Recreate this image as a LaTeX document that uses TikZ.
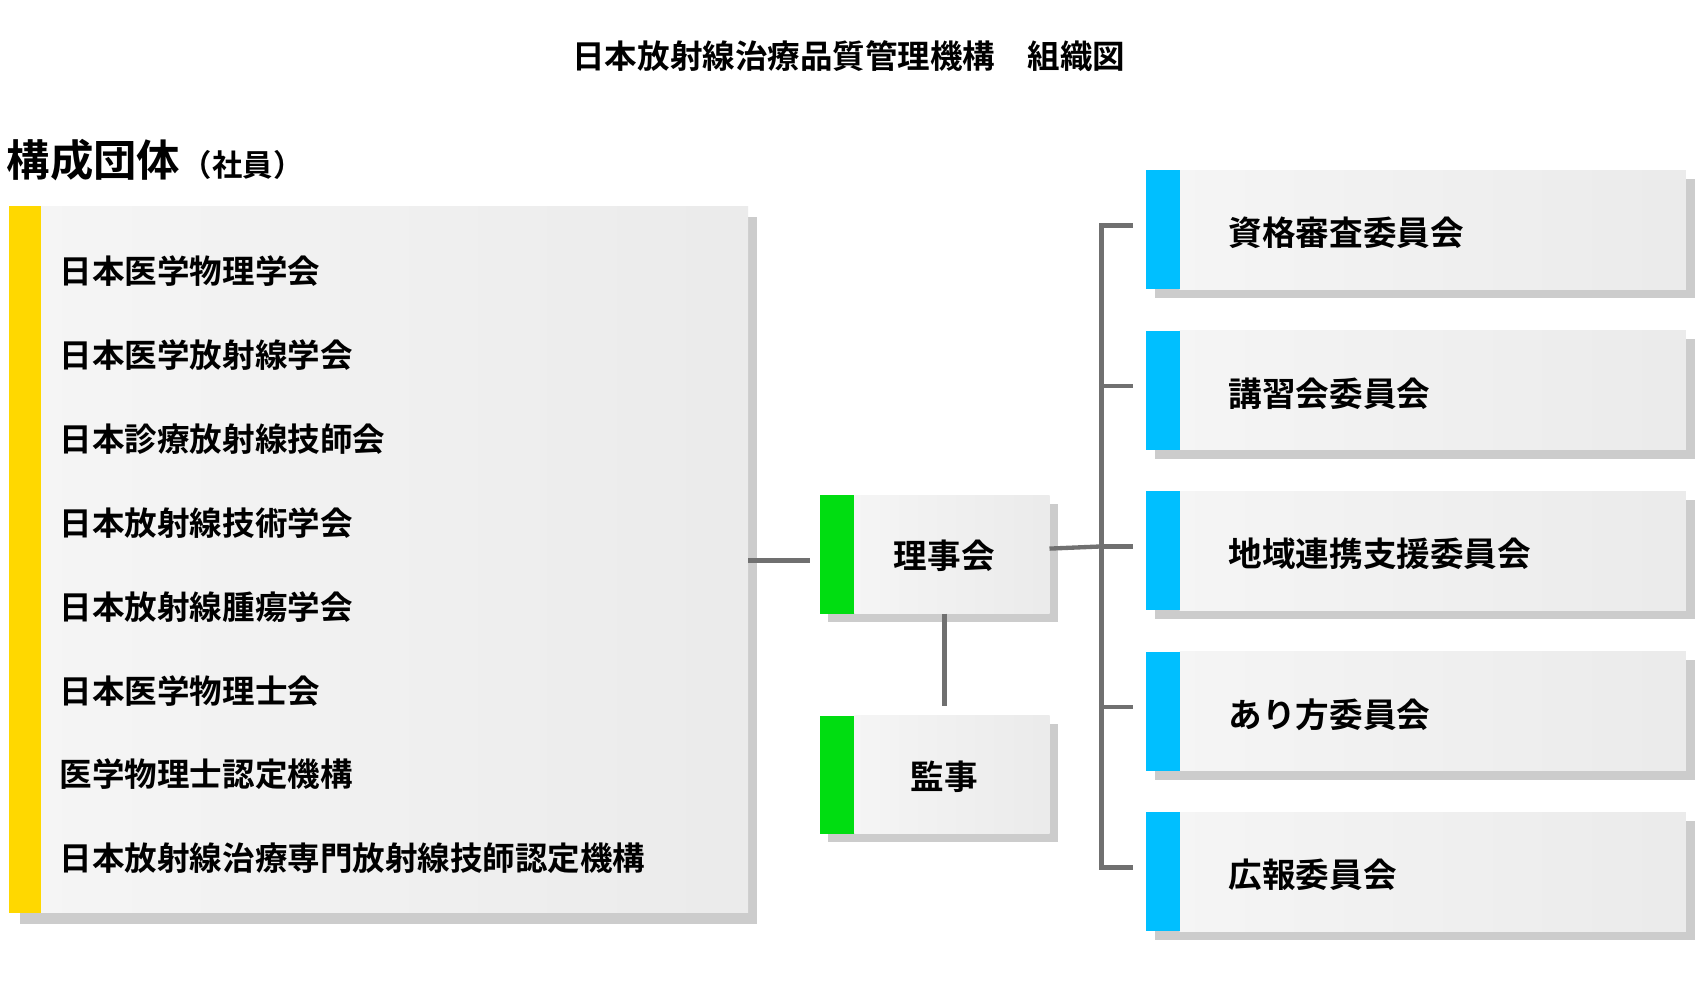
\documentclass[tikz,border=0pt]{standalone}
\usepackage{fontspec}
\setmainfont{Noto Sans CJK JP}[BoldFont={Noto Sans CJK JP Bold}]
\usetikzlibrary{calc}
\definecolor{barY}{HTML}{FFD800}
\definecolor{barG}{HTML}{00DD11}
\definecolor{barB}{HTML}{00BFFF}
\definecolor{lineg}{HTML}{707070}
\definecolor{shad}{HTML}{CCCCCC}
\tikzstyle{member}=[anchor=west,inner sep=0pt,font=\fontsize{30}{30}\selectfont\bfseries]
\tikzstyle{boxtext}=[anchor=west,inner sep=0pt,font=\fontsize{31}{31}\selectfont\bfseries]
\tikzstyle{link}=[draw=lineg,line width=4pt]
\begin{document}
\begin{tikzpicture}[x=1pt,y=-1pt]
    \useasboundingbox (0,0) rectangle (1568,922);
    \node[font=\fontsize{30}{30}\selectfont\bfseries] (title) at (783,52) {日本放射線治療品質管理機構\quad 組織図};
    \node[anchor=west,inner sep=0pt] (head) at (6,148) {{\fontsize{40}{40}\selectfont\bfseries 構成団体}\,{\fontsize{28}{28}\selectfont\bfseries（社員）}};

    % member box
    \fill[shad] (18,200) rectangle (698,852);
    \shade[left color=white!96!black,right color=white!92!black] (38,190) rectangle (690,842);
    \fill[barY] (8,190) rectangle (38,842);
    \coordinate (mright) at (690,517);
    \foreach \t [count=\i] in {日本医学物理学会,日本医学放射線学会,日本診療放射線技師会,日本放射線技術学会,日本放射線腫瘍学会,日本医学物理士会,医学物理士認定機構,日本放射線治療専門放射線技師認定機構}
        \node[member] (m\i) at (55,{250+77.4*(\i-1)}) {\t};

    % board and auditor
    \foreach \t/\y in {理事会/457,監事/660} {
        \fill[shad] (764,\y+8) rectangle (976,\y+117);
        \shade[left color=white!96!black,right color=white!92!black] (788,\y) rectangle (968,\y+109);
        \fill[barG] (756,\y) rectangle (788,\y+109);
        \node[font=\fontsize{31}{31}\selectfont\bfseries] at (871,\y+56) {\t};
    }
    \coordinate (boardbot) at (871,566);
    \coordinate (audittop) at (871,651);
    \coordinate (boardright) at (968,506);
    \coordinate (boardleft) at (747,517);

    % committees
    \foreach \t [count=\i] in {資格審査委員会,講習会委員会,地域連携支援委員会,あり方委員会,広報委員会} {
        \pgfmathsetmacro{\y}{157+148*(\i-1)}
        \fill[shad] (1065,\y+8) rectangle (1563,\y+118);
        \shade[left color=white!96!black,right color=white!92!black] (1088,\y) rectangle (1555,\y+110);
        \fill[barB] (1057,\y) rectangle (1088,\y+110);
        \node[boxtext] (c\i) at (1133,\y+58) {\t};
        \coordinate (s\i) at (1045,\y+51);
        \coordinate (j\i) at (1016,\y+51);
    }

    \draw[link] (mright) -- (boardleft);
    \draw[link] (boardbot) -- (audittop);
    \draw[link] (boardright) -- (j3);
    \draw[link] (s1) -- (j1) -- (j5) -- (s5);
    \foreach \i in {2,3,4}
        \draw[link] (j\i) -- (s\i);
\end{tikzpicture}
\end{document}
